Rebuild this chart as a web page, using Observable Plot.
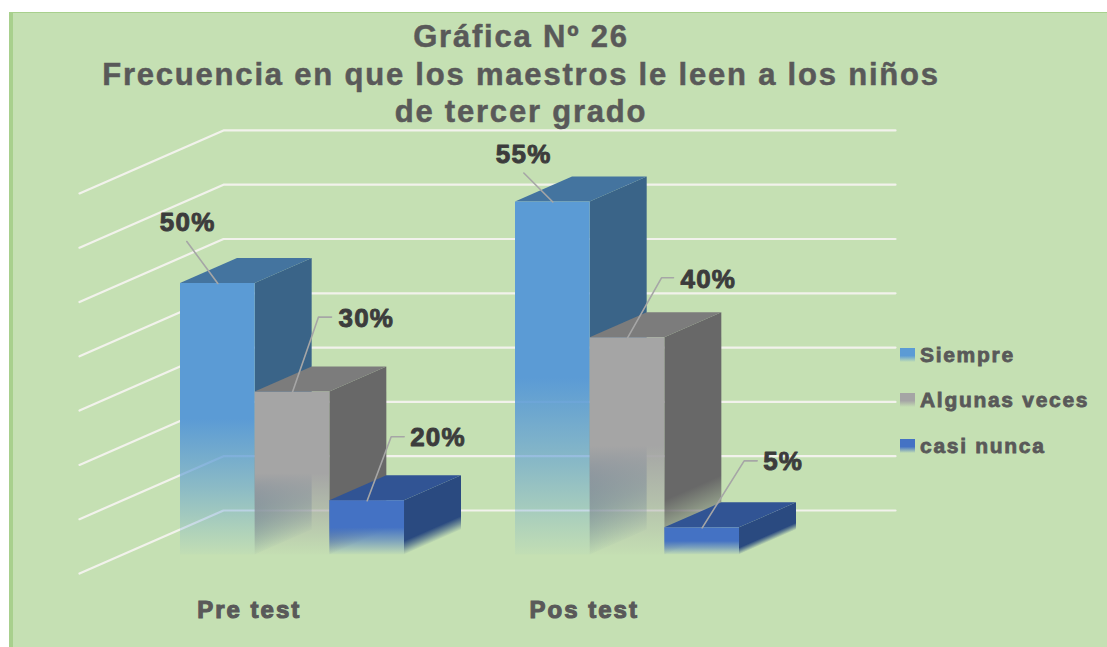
<!DOCTYPE html>
<html lang="es">
<head>
<meta charset="utf-8">
<script src="https://cdn.jsdelivr.net/npm/d3@7"></script>
<script src="https://cdn.jsdelivr.net/npm/@observablehq/plot@0.6"></script>
<style>
  html, body { margin: 0; padding: 0; background: #fff; overflow: hidden; }
  #stage { position: relative; width: 1107px; height: 647px; font-family: "Liberation Sans", Arial, sans-serif; }
  #panel { position: absolute; left: 9px; top: 12px; right: 0; bottom: 0; background: #c5e0b3; border-left: 4px solid #a8d08d; border-top: 1px solid #a8d08d; }
  #chart { position: absolute; left: 0; top: 0; }
  #chart svg { background: transparent; }
  #title { position: absolute; left: 0; width: 1042px; top: 18px; margin: 0; text-align: center; font-size: 31px; line-height: 37.5px; font-weight: 700; color: #595959; letter-spacing: 1.8px; -webkit-text-stroke: .5px #595959; }
  #legend { position: absolute; left: 900px; top: 0; }
  .item { position: absolute; left: 0; white-space: nowrap; font-size: 21px; font-weight: 700; color: #595959; line-height: 24px; letter-spacing: 1.7px; -webkit-text-stroke: .8px #595959; }
  .item i { position: absolute; left: 0; top: 5px; width: 15px; height: 14px; }
  .item span { position: absolute; left: 20px; top: 0; }
  [aria-label="x-axis tick label"] text { letter-spacing: 2px; stroke: #595959; stroke-width: 1.1px; }
  [aria-label="text"] text { letter-spacing: 1.2px; }
</style>
</head>
<body>
<div id="stage">
  <div id="panel"></div>
  <div id="chart"></div>
  <h1 id="title">Gráfica Nº 26<br>Frecuencia en que los maestros le leen a los niños<br>de tercer grado</h1>
  <div id="legend"></div>
</div>
<script>
const groups = ["Pre test", "Pos test"];
const series = ["Siempre", "Algunas veces", "casi nunca"];
const preHeights = [50, 30, 10];
const posHeights = [65, 40, 5];
const preLabels = ["50%", "30%", "20%"];
const posLabels = ["55%", "40%", "5%"];
const gridLevels = [10, 20, 30, 40, 50, 60, 70, 80];

// styling per series
const frontColors = ["#5b9bd5", "#a5a5a5", "#4472c4"];
const topColors = ["#44749f", "#7c7c7c", "#315494"];
const sideColors = ["#3a6488", "#686868", "#2a4a80"];

// layout, in px
const barPx = 74.67, unitPx = 5.43;
const groupStep = 335 / barPx;
const dX = 57 / barPx, dY = 25 / unitPx;       // bar depth
const wall = {corner: 43 / barPx, left: -101 / barPx, right: 715 / barPx, drop: 9.8 / unitPx, slope: 63 / unitPx};
// leader lines: px offsets from the middle of each bar's top front edge; label: text start
const leaders = [
  {pts: [[0, 0], [-31, -42]], label: [-58, -61]},
  {pts: [[0, 0], [26, -75], [39, -75]], label: [46, -73]},
  {pts: [[0, 0], [24, -64], [37, -64]], label: [43, -63]},
  {pts: [[0, 0], [-29, -29]], label: [-57, -47]},
  {pts: [[0, 0], [34, -60], [46, -60]], label: [53, -58]},
  {pts: [[0, 0], [42, -67], [55, -67]], label: [61, -66]}
];

const bars = groups.flatMap((g, gi) => series.map((s, si) => ({
  group: g, series: s, si, id: `${gi}-${si}`,
  x1: gi * groupStep + si,
  x2: gi * groupStep + si + 1,
  v: (gi ? posHeights : preHeights)[si],
  label: (gi ? posLabels : preLabels)[si]
})));
bars.forEach((b, i) => b.leader = leaders[i]);

const px = (b, [dx, dy]) => ({x: (b.x1 + b.x2) / 2 + dx / barPx, y: b.v - dy / unitPx});

const gridData = gridLevels.flatMap(l => [
  {l, x: wall.left, y: l - wall.drop - wall.slope},
  {l, x: wall.corner, y: l - wall.drop},
  {l, x: wall.right, y: l - wall.drop}
]);

const barMarks = bars.flatMap(b => [
  Plot.areaY([{x: b.x2, y1: 0, y2: b.v}, {x: b.x2 + dX, y1: dY, y2: b.v + dY}],
    {x: "x", y1: "y1", y2: "y2", fill: `url(#side-${b.id})`}),
  Plot.areaX([{y: b.v, x1: b.x1, x2: b.x2}, {y: b.v + dY, x1: b.x1 + dX, x2: b.x2 + dX}],
    {y: "y", x1: "x1", x2: "x2", fill: topColors[b.si]}),
  Plot.rect([b], {x1: "x1", x2: "x2", y1: 0, y2: "v", fill: `url(#front-${b.si})`})
]);

const leaderData = bars.flatMap(b => b.leader.pts.map(p => ({id: b.id, ...px(b, p)})));
const labelData = bars.map(b => ({text: b.label, ...px(b, b.leader.label)}));

const chart = Plot.plot({
  width: 1107, height: 647,
  marginTop: 0, marginRight: 0, marginLeft: 0, marginBottom: 47,
  x: {type: "linear", domain: [0, 1], range: [180, 180 + barPx]},
  y: {type: "linear", domain: [0, 80], range: [554.5, 554.5 - 80 * unitPx], axis: null},
  marks: [
    Plot.line(gridData, {x: "x", y: "y", z: "l", stroke: "#f2f2ec", strokeWidth: 2.2, curve: "linear"}),
    ...barMarks,
    Plot.line(leaderData, {x: "x", y: "y", z: "id", stroke: "#a6a6a6", strokeWidth: 1.6, curve: "linear"}),
    Plot.text(labelData, {x: "x", y: "y", text: "text", textAnchor: "start", fontSize: 26, fontWeight: 700,
      fill: "#3c3c3c", stroke: "#3c3c3c", strokeWidth: 0.9, fontFamily: "Liberation Sans"}),
    Plot.axisX(groups.map((g, i) => i * groupStep + 0.92), {
      anchor: "bottom", tickSize: 0, tickPadding: 0,
      tickFormat: (d, i) => groups[i], fontSize: 24, fontWeight: 700,
      fill: "#595959", fontFamily: "Liberation Sans", label: null
    })
  ]
});

// gradients that fade the lower half of every bar
const svgNS = "http://www.w3.org/2000/svg";
const xS = chart.scale("x").apply, yS = chart.scale("y").apply;
const defs = document.createElementNS(svgNS, "defs");
function gradient(id, attrs, color) {
  const g = document.createElementNS(svgNS, "linearGradient");
  g.setAttribute("id", id);
  for (const k in attrs) g.setAttribute(k, attrs[k]);
  [[0, 1], [0.5, 1], [0.75, 0.55], [1, 0.03]].forEach(([o, a]) => {
    const s = document.createElementNS(svgNS, "stop");
    s.setAttribute("offset", o);
    s.setAttribute("stop-color", color);
    s.setAttribute("stop-opacity", a);
    g.appendChild(s);
  });
  defs.appendChild(g);
}
series.forEach((s, i) => gradient(`front-${i}`, {x1: 0, y1: 0, x2: 0, y2: 1}, frontColors[i]));
const nx = 25 / Math.hypot(25, 57), ny = 57 / Math.hypot(25, 57);
bars.forEach(b => {
  const xf = xS(b.x2), base = yS(0), mid = (yS(b.v) + base) / 2;
  const dist = (base - mid) * ny;
  gradient(`side-${b.id}`, {
    gradientUnits: "userSpaceOnUse",
    x1: xf, y1: mid, x2: xf + nx * dist, y2: mid + ny * dist
  }, sideColors[b.si]);
});
chart.insertBefore(defs, chart.firstChild);
document.getElementById("chart").appendChild(chart);

// legend
const legendTop = [343, 388, 434];
const legend = document.getElementById("legend");
series.forEach((s, i) => {
  const el = document.createElement("div");
  el.className = "item";
  el.style.top = legendTop[i] + "px";
  const sw = document.createElement("i");
  sw.style.background = `linear-gradient(${frontColors[i]} 0 55%, #c5e0b3 100%)`;
  const tx = document.createElement("span");
  tx.textContent = s;
  el.append(sw, tx);
  legend.appendChild(el);
});
</script>
</body>
</html>
